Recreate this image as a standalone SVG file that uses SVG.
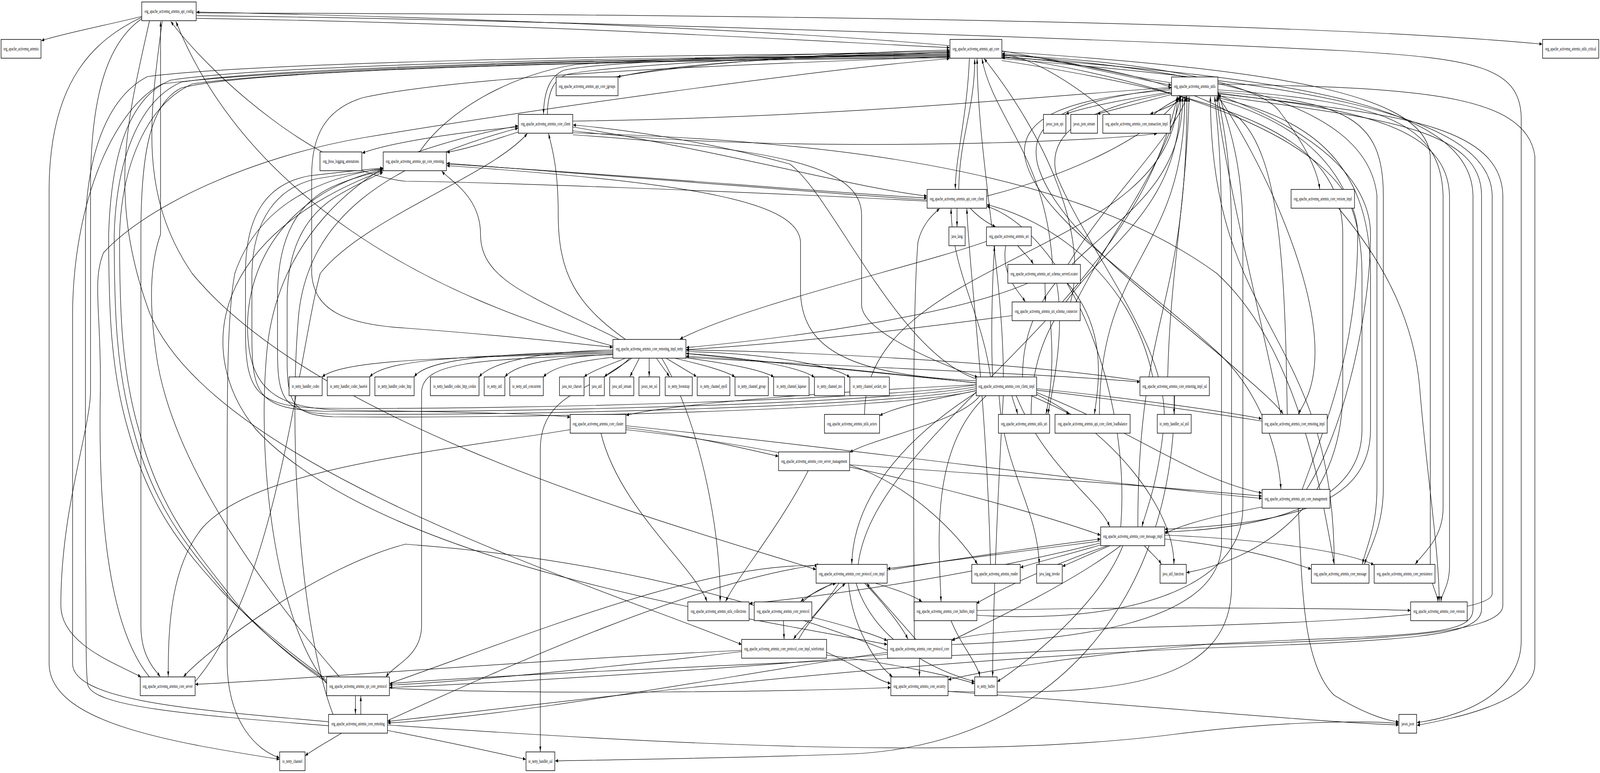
<svg xmlns="http://www.w3.org/2000/svg" width="7495" height="1979" viewBox="0 0 7495 1979" preserveAspectRatio="none">
<defs>
<marker id="ah" viewBox="0 0 13 9" refX="13" refY="4.5" markerWidth="13" markerHeight="9" markerUnits="userSpaceOnUse" orient="auto"><path d="M0,0 L13,4.5 L0,9 z" fill="#000"/></marker>
<style>
:root{width:100vw;height:100vh}
.edges path{fill:none;stroke:#000;stroke-width:1.2;marker-end:url(#ah);vector-effect:non-scaling-stroke}
.n rect{fill:#fff;stroke:#000;stroke-width:1.3;vector-effect:non-scaling-stroke}
.n text{font-family:"Liberation Serif","Times New Roman",serif;font-size:13.5px;text-anchor:middle;fill:#000}
</style>
</defs>
<rect width="7495" height="1979" fill="#fff"/>
<g id="edges" class="edges">
<path d="M 664 42 C 520 62 300 85 194 104"/>
<path d="M 919 33 C 3000 36 6000 50 7224 113"/>
<path d="M 919 40 C 2500 50 5000 95 6300 130 C 6900 150 7120 170 7126 300 L 7126 1640 C 7126 1760 6900 1830 6638 1850"/>
<path d="M 4449 117 C 3500 70 1800 40 921 31"/>
<path d="M 919 47 C 2500 60 3800 105 4448 122"/>
<path d="M 4449 135 C 3600 150 3200 160 2893 197"/>
<path d="M 2880 197 C 3300 160 3900 135 4448 128"/>
<path d="M 4449 140 C 3600 140 2800 160 2640 180 C 2580 195 2548 230 2546 292"/>
<path d="M 2564 293 C 2566 230 2600 200 2660 190 C 2900 165 3700 145 4448 133"/>
<path d="M 1965 389 C 2100 280 2400 190 2700 165 C 3300 145 4000 135 4448 131"/>
<path d="M 2428 338 C 2300 360 2200 380 2093 390"/>
<path d="M 4343 512 C 3500 480 2600 440 2093 418"/>
<path d="M 4573 975 C 4000 960 3760 900 3750 750 L 3750 620 C 3740 520 3300 470 2093 424"/>
<path d="M 4541 150 C 4530 300 4476 400 4475 484"/>
<path d="M 4491 485 C 4495 350 4566 280 4566 151"/>
<path d="M 4483 533 L 4483 580"/>
<path d="M 4545 533 C 4590 560 4640 575 4663 580"/>
<path d="M 4767 629 C 4800 650 4830 665 4840 676"/>
<path d="M 4711 629 C 4690 700 4760 740 4803 772"/>
<path d="M 4895 725 L 4897 772"/>
<path d="M 4622 502 C 5000 450 5400 350 5528 247"/>
<path d="M 4693 130 C 5000 160 5300 200 5487 218"/>
<path d="M 5488 212 C 5200 190 5000 150 4694 137"/>
<path d="M 5490 235 C 5200 260 5050 280 4993 292"/>
<path d="M 5500 240 C 5300 270 5180 285 5141 292"/>
<path d="M 5560 246 C 5500 270 5420 285 5388 292"/>
<path d="M 5405 293 C 5450 270 5520 255 5535 247"/>
<path d="M 4693 142 C 5200 150 5900 200 6000 290 C 6100 360 6170 430 6182 484"/>
<path d="M 6270 533 C 6450 650 6620 800 6650 990 C 6680 1200 6740 1400 6742 1540"/>
<path d="M 2871 905 C 2000 915 1600 925 1509 965"/>
<path d="M 2871 902 C 2100 910 1800 925 1732 965"/>
<path d="M 2871 899 C 2300 905 2000 920 1940 965"/>
<path d="M 2871 896 C 2500 900 2300 930 2244 965"/>
<path d="M 2873 907 C 2600 915 2420 930 2365 965"/>
<path d="M 2880 914 C 2700 925 2590 940 2545 965"/>
<path d="M 2930 917 C 2850 935 2770 950 2736 965"/>
<path d="M 2960 917 C 2900 940 2850 955 2831 965"/>
<path d="M 2995 917 L 2951 964"/>
<path d="M 3041 917 L 3041 964"/>
<path d="M 3075 917 L 3136 964"/>
<path d="M 3120 917 L 3263 964"/>
<path d="M 3160 917 C 3300 935 3400 950 3443 965"/>
<path d="M 3200 915 C 3400 930 3560 945 3625 965"/>
<path d="M 3213 905 C 3500 915 3750 940 3815 966"/>
<path d="M 3213 900 C 3600 905 3900 935 3981 966"/>
<path d="M 2950 917 C 2800 1000 2531 1000 2531 1150 L 2531 1924"/>
<path d="M 2871 908 C 2200 920 1990 930 1975 1000 L 1975 1600 C 1975 1680 1850 1700 1808 1733"/>
<path d="M 2871 886 C 2000 760 1150 500 824 55"/>
<path d="M 4449 145 C 3500 165 2200 190 1700 250 C 1520 280 1460 350 1460 450 L 1460 700 C 1470 790 1600 830 1900 840 C 2400 860 2700 880 2870 889"/>
<path d="M 4621 618 C 4300 680 3500 780 3185 868"/>
<path d="M 4573 980 C 4000 950 3500 920 3214 905"/>
<path d="M 5340 975 C 4800 930 3800 900 3214 896"/>
<path d="M 5912 1078 C 5000 1000 3800 930 3214 912"/>
<path d="M 4740 1013 C 4750 1035 4760 1045 4767 1060"/>
<path d="M 4830 1013 C 4900 1030 4980 1050 5009 1060"/>
<path d="M 4573 1000 C 4400 1020 4200 1040 4121 1064"/>
<path d="M 4590 1013 C 4500 1080 4100 1120 3981 1158"/>
<path d="M 4650 965 C 4640 850 4650 700 4659 630"/>
<path d="M 4700 965 C 4700 700 4580 400 4577 150"/>
<path d="M 4790 965 C 4790 605 5540 605 5540 247"/>
<path d="M 4640 965 C 4600 800 4460 700 4455 534"/>
<path d="M 4573 970 C 4200 900 3900 500 3700 420 C 3300 360 2900 330 2685 320"/>
<path d="M 4680 1013 C 4700 1200 4860 1300 4868 1444"/>
<path d="M 3980 1190 C 4300 1250 4500 1380 4579 1444"/>
<path d="M 4760 1013 C 4900 1200 5150 1280 5198 1348"/>
<path d="M 4573 1005 C 4300 1100 4000 1250 3990 1444"/>
<path d="M 4620 1013 C 4350 1150 4400 1400 4408 1540"/>
<path d="M 4700 1013 C 4670 1300 4650 1600 4650 1732"/>
<path d="M 1815 1856 C 3000 1900 4500 1950 5500 1880 C 6000 1845 6400 1845 6552 1852"/>
<path d="M 664 44 C 450 100 235 200 230 480 L 230 1700 C 235 1850 800 1900 1309 1944"/>
<path d="M 664 48 C 500 110 424 250 424 480 L 424 1000 C 424 1100 285 1300 285 1550 C 285 1650 550 1700 660 1733"/>
<path d="M 1539 1858 C 900 1830 420 1810 410 1750 C 400 1700 405 1600 400 1400 L 400 600 C 400 400 500 250 691 196 C 1200 160 3000 140 4448 136"/>
<path d="M 1539 1848 C 1000 1820 345 1800 340 1700 L 340 800 C 345 500 550 270 760 215 C 1300 175 3000 150 4448 139"/>
<path d="M 1521 1736 C 1300 1650 1100 1550 1042 1515 C 850 1400 700 1300 600 1100 C 520 950 509 800 509 600 C 520 400 600 250 800 205 C 1300 165 3000 145 4448 142"/>
<path d="M 1528 1742 C 1300 1660 1120 1560 1060 1520 C 880 1400 720 1300 625 1100 C 545 950 535 800 535 600 C 545 420 640 260 850 210 C 1350 170 3000 148 4448 144"/>
<path d="M 1534 1748 C 1320 1670 1140 1570 1080 1525 C 900 1400 745 1300 650 1100 C 570 950 560 800 560 600 C 570 430 680 270 900 215 C 1400 175 3000 152 4448 146"/>
<path d="M 4449 148 C 3000 155 1200 175 850 225 C 700 265 660 400 660 600 L 660 1600 C 660 1680 720 1710 750 1732"/>
<path d="M 4573 985 C 4200 1020 2500 1050 1500 1045 C 1200 1040 1150 1000 1150 850 L 1150 700 C 1150 550 1250 470 1450 450 C 1600 440 1700 435 1794 430"/>
<path d="M 4573 990 C 4200 1030 2500 1058 1520 1053 C 1210 1048 1180 1010 1180 860 L 1180 700 C 1185 560 1300 480 1480 458 C 1620 445 1720 438 1794 433"/>
<path d="M 4573 995 C 4200 1040 2500 1065 1540 1060 C 1330 1055 1300 1020 1300 900 L 1300 750 C 1305 600 1400 520 1550 480 C 1650 455 1730 445 1794 437"/>
<path d="M 4573 1000 C 4200 1050 2500 1072 1560 1067 C 1370 1062 1345 1030 1345 920 L 1345 760 C 1350 620 1450 540 1600 495 C 1680 470 1740 455 1794 441"/>
<path d="M 1795 431 C 1450 460 1200 540 1100 700 C 1065 800 1064 1000 1064 1200 L 1064 1700 C 1070 1850 1200 1920 1309 1940"/>
<path d="M 1590 1733 C 1300 1550 800 1200 730 900 C 700 780 700 680 752 600 L 752 55"/>
<path d="M 4343 515 C 3500 490 2200 465 1900 464 C 1500 442 1000 200 800 55"/>
<path d="M 2428 325 C 2100 340 1800 370 1697 392"/>
<path d="M 700 1733 C 500 1600 460 1300 470 1000 C 475 800 430 720 485 647 C 700 520 1200 400 1697 353 C 2500 280 3800 180 4448 150"/>
<path d="M 914 1745 C 1300 1500 1400 900 1500 700 C 1700 560 2300 450 2470 342"/>
<path d="M 1530 1750 C 1300 1600 1200 1200 1250 900 C 1300 600 1700 450 1900 400 C 2100 360 2300 335 2427 322"/>
<path d="M 1560 1829 C 1400 1600 1350 1100 1400 800 C 1450 560 1800 420 2427 328"/>
<path d="M 2930 869 C 2700 780 2615 700 2615 550 C 2615 420 2580 370 2570 342"/>
<path d="M 2900 869 C 2500 760 2251 720 2251 600 C 2251 500 2100 460 2070 438"/>
<path d="M 2683 325 C 3500 400 4000 480 4342 502"/>
<path d="M 2091 420 C 3000 450 3800 490 4342 507"/>
<path d="M 4640 1445 C 4620 1000 4540 700 4529 534"/>
<path d="M 5400 965 C 5300 700 4900 560 4623 524"/>
<path d="M 5250 1349 C 5300 1000 5000 600 4623 528"/>
<path d="M 2683 335 C 3500 390 5000 370 5420 342"/>
<path d="M 2683 310 C 4000 300 5000 240 5487 224"/>
<path d="M 2683 345 C 3600 380 4036 420 4036 550 L 4036 780 C 4036 850 4400 930 4580 966"/>
<path d="M 4930 677 C 4900 400 4650 300 4600 150"/>
<path d="M 5003 677 C 5200 500 5500 350 5560 247"/>
<path d="M 4815 725 C 4500 800 3800 860 3215 890"/>
<path d="M 5015 773 C 5100 600 4900 350 4610 150"/>
<path d="M 5040 773 C 5200 600 5480 400 5530 247"/>
<path d="M 4741 808 C 4300 840 3700 880 3215 895"/>
<path d="M 4950 725 C 4990 850 4930 1000 4909 1060"/>
<path d="M 4920 821 C 4940 950 4915 1020 4900 1060"/>
<path d="M 5000 725 C 5200 850 5140 1000 5127 1060"/>
<path d="M 5500 1013 L 5500 1060"/>
<path d="M 3213 915 C 4000 940 5000 960 5339 978"/>
<path d="M 5470 965 C 5480 700 5560 500 5570 247"/>
<path d="M 5502 1013 C 5502 1500 5000 1900 4000 1930 C 3500 1940 2900 1945 2601 1948"/>
<path d="M 2932 1095 C 3200 1110 3500 1150 3646 1168"/>
<path d="M 4573 985 C 4000 1000 3200 1030 2933 1063"/>
<path d="M 1795 433 C 1300 500 1150 700 1160 850 C 1170 1000 1300 1045 1600 1050 C 2200 1055 2550 1060 2671 1068"/>
<path d="M 2671 1100 C 2000 1160 1200 1200 950 1350 C 800 1450 788 1600 788 1732"/>
<path d="M 2815 1109 C 2900 1300 3250 1450 3312 1540"/>
<path d="M 3100 917 C 3300 1100 3380 1400 3373 1540"/>
<path d="M 3786 1205 C 3650 1350 3450 1480 3399 1540"/>
<path d="M 5156 1390 C 4500 1480 3800 1530 3511 1545"/>
<path d="M 2932 1090 C 4000 1150 5200 1240 5910 1276"/>
<path d="M 3980 1190 C 4800 1220 5500 1250 5910 1270"/>
<path d="M 4856 1005 C 5300 1100 5600 1230 5910 1262"/>
<path d="M 4856 995 C 5300 1020 5700 1050 5910 1072"/>
<path d="M 5705 246 C 5900 400 6160 700 6160 900 C 6160 1000 6100 1040 6082 1060"/>
<path d="M 2932 1100 C 3800 1150 4800 1300 5155 1370"/>
<path d="M 3900 1493 C 3850 1510 3780 1525 3751 1540"/>
<path d="M 3760 1541 C 3800 1520 3860 1500 3915 1494"/>
<path d="M 3930 1493 C 3850 1560 3750 1610 3717 1636"/>
<path d="M 3740 1637 C 3800 1580 3900 1520 3960 1494"/>
<path d="M 4050 1493 C 4150 1550 4230 1610 4253 1636"/>
<path d="M 4290 1637 C 4200 1580 4100 1520 4060 1494"/>
<path d="M 4100 1493 C 4200 1510 4280 1525 4318 1540"/>
<path d="M 3975 1493 C 3990 1600 4100 1700 4180 1732"/>
<path d="M 4010 1493 C 4100 1650 4400 1720 4565 1745"/>
<path d="M 4156 1460 C 4600 1420 5000 1390 5155 1380"/>
<path d="M 5156 1385 C 4800 1410 4400 1440 4157 1456"/>
<path d="M 4283 1637 C 4280 1300 4272 800 4300 620 C 4320 570 4380 545 4401 534"/>
<path d="M 4020 1445 C 4100 1100 5300 800 5515 247"/>
<path d="M 1815 1845 C 2400 1700 3300 1480 3840 1446"/>
<path d="M 1824 1750 C 2500 1620 3300 1440 3830 1448"/>
<path d="M 5156 1395 C 5000 1420 4850 1440 4780 1453"/>
<path d="M 5200 1397 C 5100 1420 5020 1440 4977 1450"/>
<path d="M 5360 1397 C 5400 1420 5430 1435 5440 1444"/>
<path d="M 4856 1010 C 5200 1100 5500 1300 5499 1444"/>
<path d="M 5190 1397 C 4900 1450 4650 1520 4574 1545"/>
<path d="M 5260 1397 C 5150 1550 4800 1700 4672 1745"/>
<path d="M 5250 1397 C 5000 1500 4600 1600 4459 1640"/>
<path d="M 5456 1380 C 5800 1400 6000 1430 6142 1457"/>
<path d="M 5456 1370 C 5900 1380 6300 1410 6436 1446"/>
<path d="M 4455 1589 C 4500 1650 4580 1700 4590 1732"/>
<path d="M 4576 1563 C 5500 1550 6500 1560 6607 1563"/>
<path d="M 4441 1770 C 5200 1800 6200 1850 6552 1856"/>
<path d="M 4307 1685 L 4307 1732"/>
<path d="M 3872 1670 C 4000 1700 4100 1740 4172 1750"/>
<path d="M 3872 1677 C 4200 1700 4450 1730 4565 1750"/>
<path d="M 1824 1762 C 2500 1780 3800 1770 4172 1760"/>
<path d="M 3670 1589 L 3673 1636"/>
<path d="M 3803 1580 C 3950 1600 4100 1625 4156 1640"/>
<path d="M 1665 1781 L 1665 1828"/>
<path d="M 1690 1829 L 1690 1782"/>
<path d="M 3474 1668 C 3000 1700 2200 1745 1825 1754"/>
<path d="M 4157 1675 C 3500 1710 2300 1750 1825 1760"/>
<path d="M 4157 1670 C 3500 1720 2500 1830 1816 1851"/>
<path d="M 3474 1665 C 2500 1690 1400 1740 915 1752"/>
<path d="M 4157 1665 C 3000 1420 2000 1400 1900 1393 C 1500 1450 1000 1650 860 1732"/>
<path d="M 1815 1870 C 2100 1900 2350 1930 2463 1944"/>
<path d="M 1600 1877 C 1500 1910 1450 1925 1430 1935"/>
<path d="M 4693 140 C 5600 180 6400 250 6450 500 L 6450 1250 C 6450 1350 6400 1400 6382 1444"/>
<path d="M 5705 235 C 6300 260 6480 300 6480 500 L 6480 1250 C 6480 1350 6410 1410 6392 1444"/>
<path d="M 5705 230 C 6500 260 6750 320 6760 500 L 6760 1300 C 6760 1380 6660 1420 6630 1444"/>
<path d="M 4693 132 C 6000 180 6680 240 6700 400 L 6700 1450 C 6700 1500 6735 1520 6735 1540"/>
<path d="M 5705 240 C 6400 280 6780 330 6790 500 L 6790 1450 C 6790 1500 6752 1520 6750 1540"/>
<path d="M 5705 215 C 6600 225 7150 235 7190 400 L 7190 1700 C 7190 1800 6800 1840 6638 1857"/>
<path d="M 4693 145 C 6000 200 6890 260 6900 500 L 6900 1560 C 6900 1620 6700 1625 6000 1640 C 4500 1680 2500 1720 1825 1750"/>
<path d="M 5705 245 C 6400 300 6940 320 6940 500 L 6940 1560 C 6940 1630 6600 1640 5600 1660 C 4000 1700 2600 1800 1816 1847"/>
<path d="M 5705 238 C 6400 290 7030 300 7040 500 L 7040 1550 C 7040 1620 6500 1640 5650 1650 C 5000 1680 4600 1720 4442 1740"/>
<path d="M 4693 150 C 6000 210 6980 280 6990 500 L 6990 1520 C 6990 1580 6000 1600 5000 1610 C 4700 1615 4550 1625 4459 1638"/>
<path d="M 5705 250 C 6100 300 6420 400 6420 700 L 6420 1100 C 6420 1300 6000 1340 5457 1355"/>
<path d="M 5705 255 C 6050 310 6380 420 6380 700 L 6380 1100 C 6380 1280 6000 1350 5457 1362"/>
<path d="M 4693 155 C 5800 250 6290 350 6290 600 L 6290 1000 C 6290 1300 5900 1430 5558 1466"/>
<path d="M 4458 1650 C 5000 1640 5700 1600 5722 1400 L 5722 600 C 5722 400 5700 300 5690 247"/>
<path d="M 4441 1770 C 5200 1780 5769 1760 5769 1500 L 5769 600 C 5769 400 5720 290 5703 243"/>
<path d="M 4576 1575 C 5300 1600 5822 1500 5822 1300 L 5822 600 C 5822 400 5740 300 5706 236"/>
<path d="M 6120 1253 C 6300 1100 6420 800 6420 600 C 6420 400 5900 280 5706 244"/>
<path d="M 6100 1253 C 6200 1100 6360 900 6360 600 C 6360 350 5400 200 4694 145"/>
<path d="M 6082 1301 C 6100 1500 6100 1700 6250 1780 C 6400 1830 6500 1845 6552 1848"/>
<path d="M 5912 1298 C 5700 1320 5550 1340 5457 1366"/>
<path d="M 5200 293 C 5000 200 4800 140 4694 141"/>
<path d="M 6030 1061 C 6020 700 6000 400 5800 300 C 5500 200 5000 150 4694 148"/>
<path d="M 6000 1061 C 5900 800 5720 400 5700 247"/>
<path d="M 5330 1349 C 5330 800 5560 800 5560 247"/>
<path d="M 6250 1445 C 6250 846 5670 846 5670 247"/>
<path d="M 5150 1061 C 5150 654 5550 654 5550 247"/>
<path d="M 4830 1061 C 4830 654 5530 654 5530 247"/>
<path d="M 4050 1061 C 4050 654 5515 654 5515 247"/>
<path d="M 5488 230 C 5000 250 4780 300 4800 400 C 4850 550 5300 700 5700 900 C 5900 1000 5990 1150 6000 1252"/>
<path d="M 5488 226 C 4950 260 4820 320 4860 420 C 4950 600 5500 800 5800 950 C 5950 1020 6000 1050 6010 1060"/>
<path d="M 5488 238 C 5050 280 4900 350 4950 450 C 5100 650 5500 900 5450 1100 C 5420 1250 5360 1320 5350 1348"/>
<path d="M 2683 340 C 3800 360 5000 420 5700 700 C 6100 900 6200 1300 6250 1444"/>
<path d="M 700 54 C 600 300 500 500 700 800 C 1000 1200 2800 1500 3474 1650"/>
<path d="M 760 54 C 700 300 650 500 900 700 C 1500 1100 3200 1350 3822 1458"/>
<path d="M 1795 437 C 1000 600 900 900 1200 1100 C 1800 1450 3500 1580 4156 1650"/>
</g>
<g id="cfg" class="n"><rect x="664" y="5" width="255" height="48"/><text x="791.5" y="33.5">org_apache_activemq_artemis_api_config</text></g>
<g id="art" class="n"><rect x="5" y="101" width="187" height="48"/><text x="98.5" y="129.5">org_apache_activemq_artemis</text></g>
<g id="core" class="n"><rect x="4450" y="101" width="243" height="48"/><text x="4571.5" y="129.5">org_apache_activemq_artemis_api_core</text></g>
<g id="crit" class="n"><rect x="7226" y="101" width="263" height="48"/><text x="7357.5" y="129.5">org_apache_activemq_artemis_utils_critical</text></g>
<g id="jgr" class="n"><rect x="2605" y="197" width="290" height="48"/><text x="2750" y="225.5">org_apache_activemq_artemis_api_core_jgroups</text></g>
<g id="utl" class="n"><rect x="5488" y="197" width="217" height="48"/><text x="5596.5" y="225.5">org_apache_activemq_artemis_utils</text></g>
<g id="cc" class="n"><rect x="2428" y="293" width="255" height="48"/><text x="2555.5" y="321.5">org_apache_activemq_artemis_core_client</text></g>
<g id="jspi" class="n"><rect x="4888" y="293" width="105" height="48"/><text x="4940.5" y="321.5">javax_json_spi</text></g>
<g id="jstr" class="n"><rect x="5016" y="293" width="125" height="48"/><text x="5078.5" y="321.5">javax_json_stream</text></g>
<g id="txi" class="n"><rect x="5166" y="293" width="316" height="48"/><text x="5324" y="321.5">org_apache_activemq_artemis_core_transaction_impl</text></g>
<g id="jbl" class="n"><rect x="1499" y="389" width="196" height="48"/><text x="1597" y="417.5">org_jboss_logging_annotations</text></g>
<g id="scr" class="n"><rect x="1795" y="389" width="296" height="48"/><text x="1943" y="417.5">org_apache_activemq_artemis_spi_core_remoting</text></g>
<g id="acc" class="n"><rect x="4343" y="485" width="279" height="48"/><text x="4482.5" y="513.5">org_apache_activemq_artemis_api_core_client</text></g>
<g id="cvi" class="n"><rect x="6048" y="485" width="297" height="48"/><text x="6196.5" y="513.5">org_apache_activemq_artemis_core_version_impl</text></g>
<g id="jl" class="n"><rect x="4445" y="581" width="76" height="48"/><text x="4483" y="609.5">java_lang</text></g>
<g id="uri" class="n"><rect x="4621" y="581" width="210" height="48"/><text x="4726" y="609.5">org_apache_activemq_artemis_uri</text></g>
<g id="usl" class="n"><rect x="4721" y="677" width="340" height="48"/><text x="4891" y="705.5">org_apache_activemq_artemis_uri_schema_serverLocator</text></g>
<g id="ucn" class="n"><rect x="4741" y="773" width="319" height="48"/><text x="4900.5" y="801.5">org_apache_activemq_artemis_uri_schema_connector</text></g>
<g id="rin" class="n"><rect x="2871" y="869" width="342" height="48"/><text x="3042" y="897.5">org_apache_activemq_artemis_core_remoting_impl_netty</text></g>
<g id="codec" class="n"><rect x="1354" y="965" width="155" height="48"/><text x="1431.5" y="993.5">io_netty_handler_codec</text></g>
<g id="b64" class="n"><rect x="1533" y="965" width="199" height="48"/><text x="1632.5" y="993.5">io_netty_handler_codec_base64</text></g>
<g id="http" class="n"><rect x="1756" y="965" width="184" height="48"/><text x="1848" y="993.5">io_netty_handler_codec_http</text></g>
<g id="cookie" class="n"><rect x="2016" y="965" width="228" height="48"/><text x="2130" y="993.5">io_netty_handler_codec_http_cookie</text></g>
<g id="nutil" class="n"><rect x="2268" y="965" width="97" height="48"/><text x="2316.5" y="993.5">io_netty_util</text></g>
<g id="nconc" class="n"><rect x="2388" y="965" width="157" height="48"/><text x="2466.5" y="993.5">io_netty_util_concurrent</text></g>
<g id="niocs" class="n"><rect x="2621" y="965" width="115" height="48"/><text x="2678.5" y="993.5">java_nio_charset</text></g>
<g id="jutil" class="n"><rect x="2761" y="965" width="70" height="48"/><text x="2796" y="993.5">java_util</text></g>
<g id="jstream" class="n"><rect x="2856" y="965" width="113" height="48"/><text x="2912.5" y="993.5">java_util_stream</text></g>
<g id="jssl" class="n"><rect x="2993" y="965" width="97" height="48"/><text x="3041.5" y="993.5">javax_net_ssl</text></g>
<g id="boot" class="n"><rect x="3116" y="965" width="127" height="48"/><text x="3179.5" y="993.5">io_netty_bootstrap</text></g>
<g id="epoll" class="n"><rect x="3266" y="965" width="153" height="48"/><text x="3342.5" y="993.5">io_netty_channel_epoll</text></g>
<g id="group" class="n"><rect x="3443" y="965" width="156" height="48"/><text x="3521" y="993.5">io_netty_channel_group</text></g>
<g id="kq" class="n"><rect x="3624" y="965" width="166" height="48"/><text x="3707" y="993.5">io_netty_channel_kqueue</text></g>
<g id="chnio" class="n"><rect x="3815" y="965" width="141" height="48"/><text x="3885.5" y="993.5">io_netty_channel_nio</text></g>
<g id="socknio" class="n"><rect x="3981" y="965" width="185" height="48"/><text x="4073.5" y="993.5">io_netty_channel_socket_nio</text></g>
<g id="cci" class="n"><rect x="4573" y="965" width="283" height="48"/><text x="4714.5" y="993.5">org_apache_activemq_artemis_core_client_impl</text></g>
<g id="rssl" class="n"><rect x="5340" y="965" width="325" height="48"/><text x="5502.5" y="993.5">org_apache_activemq_artemis_core_remoting_impl_ssl</text></g>
<g id="clu" class="n"><rect x="2671" y="1061" width="261" height="48"/><text x="2801.5" y="1089.5">org_apache_activemq_artemis_core_cluster</text></g>
<g id="act" class="n"><rect x="3862" y="1061" width="258" height="48"/><text x="3991" y="1089.5">org_apache_activemq_artemis_utils_actors</text></g>
<g id="uuri" class="n"><rect x="4677" y="1061" width="240" height="48"/><text x="4797" y="1089.5">org_apache_activemq_artemis_utils_uri</text></g>
<g id="lb" class="n"><rect x="4942" y="1061" width="352" height="48"/><text x="5118" y="1089.5">org_apache_activemq_artemis_api_core_client_loadbalance</text></g>
<g id="sslu" class="n"><rect x="5421" y="1061" width="159" height="48"/><text x="5500.5" y="1089.5">io_netty_handler_ssl_util</text></g>
<g id="rimpl" class="n"><rect x="5912" y="1061" width="305" height="48"/><text x="6064.5" y="1089.5">org_apache_activemq_artemis_core_remoting_impl</text></g>
<g id="csm" class="n"><rect x="3647" y="1157" width="333" height="48"/><text x="3813.5" y="1185.5">org_apache_activemq_artemis_core_server_management</text></g>
<g id="acm" class="n"><rect x="5912" y="1253" width="318" height="48"/><text x="6071" y="1281.5">org_apache_activemq_artemis_api_core_management</text></g>
<g id="cmi" class="n"><rect x="5156" y="1349" width="300" height="48"/><text x="5306" y="1377.5">org_apache_activemq_artemis_core_message_impl</text></g>
<g id="pci" class="n"><rect x="3823" y="1445" width="333" height="48"/><text x="3989.5" y="1473.5">org_apache_activemq_artemis_core_protocol_core_impl</text></g>
<g id="rdr" class="n"><rect x="4552" y="1445" width="227" height="48"/><text x="4665.5" y="1473.5">org_apache_activemq_artemis_reader</text></g>
<g id="jli" class="n"><rect x="4856" y="1445" width="120" height="48"/><text x="4916" y="1473.5">java_lang_invoke</text></g>
<g id="juf" class="n"><rect x="5434" y="1445" width="123" height="48"/><text x="5495.5" y="1473.5">java_util_function</text></g>
<g id="cmsg" class="n"><rect x="6143" y="1445" width="270" height="48"/><text x="6278" y="1473.5">org_apache_activemq_artemis_core_message</text></g>
<g id="cper" class="n"><rect x="6437" y="1445" width="285" height="48"/><text x="6579.5" y="1473.5">org_apache_activemq_artemis_core_persistence</text></g>
<g id="ucol" class="n"><rect x="3222" y="1541" width="287" height="48"/><text x="3365.5" y="1569.5">org_apache_activemq_artemis_utils_collections</text></g>
<g id="cpro" class="n"><rect x="3533" y="1541" width="270" height="48"/><text x="3668" y="1569.5">org_apache_activemq_artemis_core_protocol</text></g>
<g id="cbi" class="n"><rect x="4282" y="1541" width="294" height="48"/><text x="4429" y="1569.5">org_apache_activemq_artemis_core_buffers_impl</text></g>
<g id="cver" class="n"><rect x="6608" y="1541" width="265" height="48"/><text x="6740.5" y="1569.5">org_apache_activemq_artemis_core_version</text></g>
<g id="wf" class="n"><rect x="3474" y="1637" width="398" height="48"/><text x="3673" y="1665.5">org_apache_activemq_artemis_core_protocol_core_impl_wireformat</text></g>
<g id="pcc" class="n"><rect x="4157" y="1637" width="301" height="48"/><text x="4307.5" y="1665.5">org_apache_activemq_artemis_core_protocol_core</text></g>
<g id="csrv" class="n"><rect x="657" y="1733" width="257" height="48"/><text x="785.5" y="1761.5">org_apache_activemq_artemis_core_server</text></g>
<g id="scp" class="n"><rect x="1530" y="1733" width="294" height="48"/><text x="1677" y="1761.5">org_apache_activemq_artemis_spi_core_protocol</text></g>
<g id="csec" class="n"><rect x="4173" y="1733" width="268" height="48"/><text x="4307" y="1761.5">org_apache_activemq_artemis_core_security</text></g>
<g id="nbuf" class="n"><rect x="4566" y="1733" width="105" height="48"/><text x="4618.5" y="1761.5">io_netty_buffer</text></g>
<g id="crem" class="n"><rect x="1539" y="1829" width="276" height="48"/><text x="1677" y="1857.5">org_apache_activemq_artemis_core_remoting</text></g>
<g id="jjson" class="n"><rect x="6553" y="1829" width="83" height="48"/><text x="6594.5" y="1857.5">javax_json</text></g>
<g id="nchan" class="n"><rect x="1310" y="1925" width="119" height="48"/><text x="1369.5" y="1953.5">io_netty_channel</text></g>
<g id="nssl" class="n"><rect x="2464" y="1925" width="135" height="48"/><text x="2531.5" y="1953.5">io_netty_handler_ssl</text></g>
</svg>
